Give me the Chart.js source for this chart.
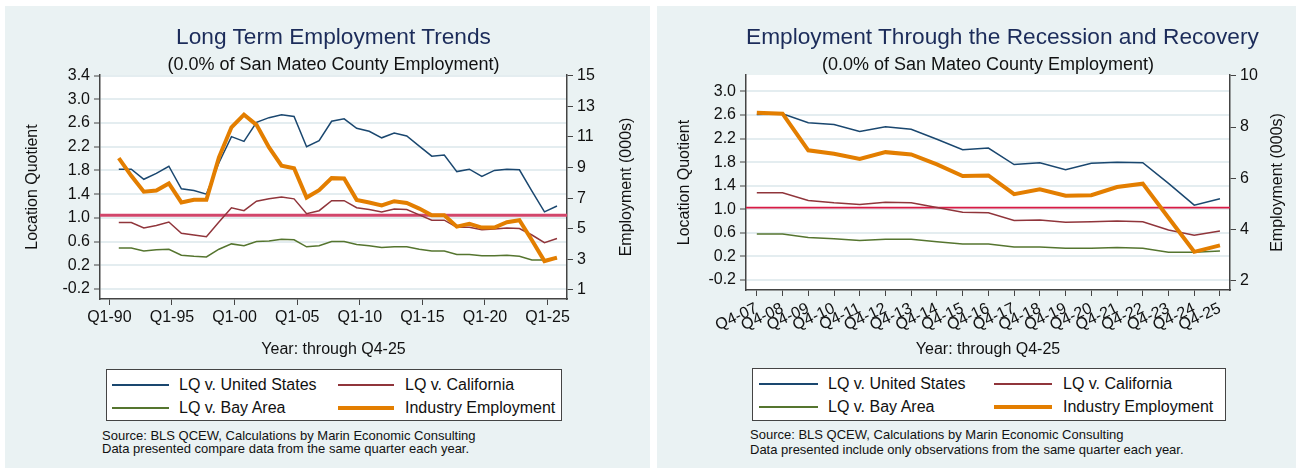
<!DOCTYPE html>
<html>
<head>
<meta charset="utf-8">
<script src="https://cdn.jsdelivr.net/npm/chart.js@4.4.1/dist/chart.umd.min.js"></script>
<style>
  body { margin: 0; width: 1299px; height: 472px; background: #fff; position: relative; overflow: hidden;
         font-family: "Liberation Sans", Arial, Helvetica, sans-serif; color: #111; }
  .panel { position: absolute; top: 6px; height: 462px; background: #eaf2f3; }
  canvas { position: absolute; top: 0; }
  .title { position: absolute; text-align: center; color: #1c2c5a; font-size: 22.7px; white-space: nowrap; }
  .subtitle { position: absolute; text-align: center; color: #111; font-size: 18px; white-space: nowrap; }
  .legend { position: absolute; background: #fff; border: 1.5px solid #444; box-sizing: border-box; }
  .legend .item { position: absolute; font-size: 16px; white-space: nowrap; line-height: 16px; }
  .legend .swatch { position: absolute; }
  .note { position: absolute; font-size: 13px; white-space: nowrap; }
</style>
</head>
<body>
<div class="panel" style="left:5px;width:645px"></div>
<div class="panel" style="left:657px;width:639px"></div>

<canvas id="longChart" width="650" height="365" style="left:0"></canvas>
<canvas id="recChart" width="649" height="365" style="left:650px"></canvas>

<div class="title" style="left:100px;width:467px;top:23px">Long Term Employment Trends</div>
<div class="subtitle" style="left:100px;width:467px;top:54px">(0.0% of San Mateo County Employment)</div>
<div class="title" style="left:746px;width:484px;top:23px">Employment Through the Recession and Recovery</div>
<div class="subtitle" style="left:746px;width:484px;top:54px">(0.0% of San Mateo County Employment)</div>

<div id="longLegend" class="legend" style="left:106px;top:369px;width:456px;height:52px"></div>
<div id="recLegend" class="legend" style="left:752px;top:368px;width:474px;height:53px"></div>

<div class="note" style="left:102px;top:430px;line-height:12.6px">Source: BLS QCEW, Calculations by Marin Economic Consulting<br>Data presented compare data from the same quarter each year.</div>
<div class="note" style="left:750px;top:427px;line-height:15px">Source: BLS QCEW, Calculations by Marin Economic Consulting<br>Data presented include only observations from the same quarter each year.</div>

<script>
// ---- long term chart data (Q4 of each year) ----
const longYears = [1990, 1991, 1992, 1993, 1994, 1995, 1996, 1997, 1998, 1999, 2000, 2001,
  2002, 2003, 2004, 2005, 2006, 2007, 2008, 2009, 2010, 2011, 2012, 2013,
  2014, 2015, 2016, 2017, 2018, 2019, 2020, 2021, 2022, 2023, 2024, 2025]
const longUS = [1.82, 1.82, 1.65, 1.75, 1.87, 1.49, 1.46, 1.40, 1.93, 2.37, 2.29, 2.61,
  2.69, 2.74, 2.71, 2.20, 2.30, 2.63, 2.67, 2.51, 2.46, 2.35, 2.43, 2.38,
  2.21, 2.04, 2.06, 1.78, 1.82, 1.70, 1.80, 1.82, 1.81, 1.45, 1.10, 1.20]
const longCA = [0.92, 0.92, 0.83, 0.87, 0.93, 0.74, 0.71, 0.68, 0.93, 1.17, 1.12, 1.28,
  1.32, 1.35, 1.32, 1.07, 1.12, 1.29, 1.29, 1.17, 1.14, 1.10, 1.15, 1.14,
  1.05, 0.96, 0.96, 0.84, 0.84, 0.80, 0.81, 0.83, 0.82, 0.71, 0.58, 0.65]
const longBay = [0.49, 0.49, 0.44, 0.46, 0.47, 0.37, 0.35, 0.34, 0.47, 0.56, 0.53, 0.60,
  0.61, 0.64, 0.63, 0.51, 0.53, 0.60, 0.60, 0.55, 0.53, 0.50, 0.51, 0.51,
  0.47, 0.44, 0.44, 0.38, 0.38, 0.36, 0.36, 0.37, 0.35, 0.29, 0.29, 0.31]
const longEmp = [9.62, 8.46, 7.42, 7.50, 7.96, 6.72, 6.89, 6.89, 9.67, 11.63, 12.46, 11.79,
  10.32, 9.12, 8.95, 7.04, 7.52, 8.31, 8.29, 6.89, 6.72, 6.52, 6.80, 6.69,
  6.32, 5.89, 5.89, 5.14, 5.32, 5.08, 5.08, 5.43, 5.56, 4.25, 2.89, 3.11]
const longTickYears = [1990, 1995, 2000, 2005, 2010, 2015, 2020, 2025]
const longTickLabels = ['Q1-90', 'Q1-95', 'Q1-00', 'Q1-05', 'Q1-10', 'Q1-15', 'Q1-20', 'Q1-25']
const longLQTicks = [-0.2, 0.2, 0.6, 1.0, 1.4, 1.8, 2.2, 2.6, 3.0, 3.4]
const longEmpTicks = [1, 3, 5, 7, 9, 11, 13, 15]

// ---- recession and recovery chart data ----
const recQuarters = ['Q4-07', 'Q4-08', 'Q4-09', 'Q4-10', 'Q4-11', 'Q4-12', 'Q4-13', 'Q4-14', 'Q4-15', 'Q4-16',
  'Q4-17', 'Q4-18', 'Q4-19', 'Q4-20', 'Q4-21', 'Q4-22', 'Q4-23', 'Q4-24', 'Q4-25']
const recUS = [2.61, 2.62, 2.47, 2.44, 2.32, 2.40, 2.36, 2.19, 2.01, 2.04, 1.76, 1.79, 1.67, 1.78, 1.80, 1.79, 1.44, 1.07, 1.18]
const recCA = [1.28, 1.28, 1.15, 1.11, 1.08, 1.12, 1.11, 1.03, 0.95, 0.94, 0.81, 0.82, 0.78, 0.79, 0.80, 0.79, 0.65, 0.56, 0.63]
const recBay = [0.58, 0.58, 0.52, 0.50, 0.47, 0.49, 0.49, 0.45, 0.41, 0.41, 0.36, 0.36, 0.34, 0.34, 0.35, 0.34, 0.27, 0.27, 0.29]
const recEmp = [8.56, 8.52, 7.09, 6.96, 6.75, 7.02, 6.93, 6.54, 6.09, 6.11, 5.38, 5.57, 5.32, 5.34, 5.66, 5.79, 4.46, 3.13, 3.38]
const recLQTicks = [-0.2, 0.2, 0.6, 1.0, 1.4, 1.8, 2.2, 2.6, 3.0]
const recEmpTicks = [2, 4, 6, 8, 10]

const seriesNames = ['LQ v. United States', 'LQ v. California', 'LQ v. Bay Area', 'Industry Employment']
const seriesColors = ['#1a476f', '#90353b', '#55752f', '#e37e00']
const seriesWidths = [1.5, 1.5, 1.5, 4]

const AXIS = '#444'
const FONT = { size: 16 }

// white plot area, LQ = 1 reference line, right axis title
const plotDecor = {
  id: 'plotDecor',
  beforeDraw(chart) {
    const { ctx, chartArea: a } = chart
    ctx.save()
    ctx.fillStyle = '#fff'
    ctx.fillRect(a.left, a.top, a.right - a.left, a.bottom - a.top)
    ctx.restore()
  },
  beforeDatasetsDraw(chart, args, opts) {
    const { ctx, chartArea: a } = chart
    const y = chart.scales.yL.getPixelForValue(opts.refLine)
    ctx.save()
    ctx.strokeStyle = opts.refColor
    ctx.lineWidth = opts.refWidth
    ctx.beginPath()
    ctx.moveTo(a.left, y)
    ctx.lineTo(a.right, y)
    ctx.stroke()
    ctx.restore()
  },
  afterDraw(chart, args, opts) {
    const { ctx, chartArea: a } = chart
    ctx.save()
    ctx.translate(a.right + opts.rightTitleDx, (a.top + a.bottom) / 2)
    ctx.rotate(-Math.PI / 2)
    ctx.font = "16px 'Liberation Sans', Arial, sans-serif"
    ctx.fillStyle = '#111'
    ctx.textAlign = 'center'
    ctx.textBaseline = 'middle'
    ctx.fillText('Employment (000s)', 0, 0)
    ctx.restore()
  }
}

function makeChart(id, o) {
  const values = [o.us, o.ca, o.bay, o.emp]
  const datasets = values.map((vals, i) => ({
    label: seriesNames[i],
    data: vals.map((v, j) => ({ x: o.xs[j], y: v })),
    borderColor: seriesColors[i],
    borderWidth: seriesWidths[i],
    pointRadius: 0,
    tension: 0,
    fill: false,
    yAxisID: i === 3 ? 'yE' : 'yL',
    order: i === 3 ? 0 : i + 1
  }))

  return new Chart(document.getElementById(id), {
    type: 'line',
    data: { datasets },
    plugins: [plotDecor],
    options: {
      responsive: false,
      animation: false,
      layout: { padding: { top: 75, left: 0, right: 0, bottom: 0 } },
      plugins: {
        legend: { display: false },
        tooltip: { enabled: false },
        plotDecor: { refLine: o.refLine, refColor: o.refColor, refWidth: o.refWidth, rightTitleDx: o.rightTitleDx }
      },
      scales: {
        x: {
          type: 'linear',
          position: 'bottom',
          min: o.xMin,
          max: o.xMax,
          afterBuildTicks: s => { s.ticks = o.xTicks.map(v => ({ value: v })) },
          afterFit: s => { s.height = o.bottomH },
          ticks: {
            autoSkip: false,
            minRotation: o.xRot,
            maxRotation: o.xRot,
            font: FONT,
            color: '#111',
            padding: 3,
            callback: (v, i) => o.xTickLabels[i]
          },
          grid: { drawOnChartArea: false, drawTicks: true, tickLength: 6, tickColor: AXIS, tickWidth: 1 },
          border: { color: AXIS, width: 1.5 },
          title: { display: true, text: 'Year: through Q4-25', font: FONT, color: '#111', padding: { top: 0, bottom: 5.4 } }
        },
        yL: {
          type: 'linear',
          position: 'left',
          min: o.lqMin,
          max: o.lqMax,
          afterBuildTicks: s => { s.ticks = o.lqTicks.map(v => ({ value: v })) },
          afterFit: s => { s.width = o.leftW },
          ticks: { font: FONT, color: '#111', padding: 4, callback: v => v.toFixed(1) },
          grid: { color: '#e4edf0', lineWidth: 2, drawTicks: true, tickLength: 6, tickColor: AXIS, tickWidth: 1 },
          border: { color: AXIS, width: 1.5 },
          title: { display: true, text: 'Location Quotient', font: FONT, color: '#111', padding: { top: o.yTitlePad, bottom: 0 } }
        },
        yE: {
          type: 'linear',
          position: 'right',
          min: o.eMin,
          max: o.eMax,
          afterBuildTicks: s => { s.ticks = o.eTicks.map(v => ({ value: v })) },
          afterFit: s => { s.width = o.rightW },
          ticks: { font: FONT, color: '#111', padding: 4, callback: v => String(v) },
          grid: { drawOnChartArea: false, drawTicks: true, tickLength: 6, tickColor: AXIS, tickWidth: 1 },
          border: { color: AXIS, width: 1.5 }
        }
      }
    }
  })
}

function makeLegend(id, pos) {
  const box = document.getElementById(id)
  seriesNames.forEach((name, i) => {
    const col = i % 2, row = Math.floor(i / 2)
    const y = pos.rows[row]
    const sw = document.createElement('div')
    sw.className = 'swatch'
    sw.style.left = pos.sw[col][0] + 'px'
    sw.style.width = (pos.sw[col][1] - pos.sw[col][0]) + 'px'
    sw.style.top = (y - seriesWidths[i] / 2) + 'px'
    sw.style.height = seriesWidths[i] + 'px'
    sw.style.background = seriesColors[i]
    box.appendChild(sw)
    const t = document.createElement('div')
    t.className = 'item'
    t.textContent = name
    t.style.left = pos.text[col] + 'px'
    t.style.top = (y - 8.5) + 'px'
    box.appendChild(t)
  })
}

window.addEventListener('load', () => {
  Chart.defaults.font.family = "'Liberation Sans', Arial, Helvetica, sans-serif"

  makeChart('longChart', {
    xs: longYears.map(y => y + 0.75),
    us: longUS, ca: longCA, bay: longBay, emp: longEmp,
    xMin: 1989.25, xMax: 2026.55, xTicks: longTickYears, xTickLabels: longTickLabels, xRot: 0,
    lqMin: -0.37, lqMax: 3.41, lqTicks: longLQTicks,
    eMin: 0.41, eMax: 15.05, eTicks: longEmpTicks,
    refLine: 1.045, refColor: '#d2466b', refWidth: 3,
    leftW: 100, rightW: 83, bottomH: 66, yTitlePad: 23.4, rightTitleDx: 60
  })

  makeChart('recChart', {
    xs: recQuarters.map((q, i) => i),
    us: recUS, ca: recCA, bay: recBay, emp: recEmp,
    xMin: -0.42, xMax: 18.39, xTicks: recQuarters.map((q, i) => i), xTickLabels: recQuarters, xRot: 25,
    lqMin: -0.37, lqMax: 3.28, lqTicks: recLQTicks,
    eMin: 1.64, eMax: 10.03, eTicks: recEmpTicks,
    refLine: 1.03, refColor: '#d81b45', refWidth: 1.8,
    leftW: 96, rightW: 69, bottomH: 75, yTitlePad: 25.4, rightTitleDx: 48
  })

  makeLegend('longLegend', { rows: [15, 38], sw: [[5, 62], [231, 287]], text: [72, 298] })
  makeLegend('recLegend', { rows: [15, 38], sw: [[6, 65], [241, 299]], text: [75, 310] })
})
</script>
</body>
</html>
